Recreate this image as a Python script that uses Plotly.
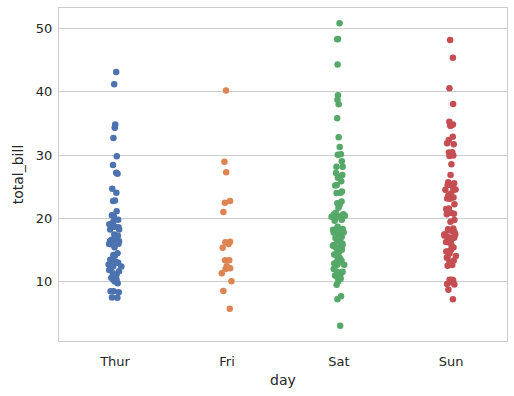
import plotly.graph_objects as go

days = ["Thur", "Fri", "Sat", "Sun"]
colors = ["#4C72B0", "#DD8452", "#55A868", "#C44E52"]

thur = [27.20, 22.76, 17.29, 19.44, 16.66, 10.07, 32.68, 15.98, 34.83, 13.03, 18.28, 24.71, 21.16,
        10.65, 12.43, 24.08, 11.69, 13.42, 14.26, 15.95, 12.48, 29.80, 8.52, 14.52, 11.38, 22.82,
        19.08, 20.27, 11.17, 12.26, 18.26, 8.51, 10.33, 14.15, 16.00, 13.16, 17.47, 34.30, 41.19,
        27.05, 16.43, 8.35, 18.64, 11.87, 9.78, 7.51,
        19.81, 28.44, 15.48, 16.58, 7.56, 10.34, 43.11, 13.00, 13.51, 18.71, 12.74, 13.00, 16.40,
        20.53, 16.47, 18.78]
fri = [28.97, 22.49, 5.75, 16.32, 22.75, 40.17, 27.28, 12.03, 21.01, 12.46, 11.35, 15.38,
       12.16, 13.42, 8.58, 15.98, 13.42, 16.27, 10.09]
sat = [20.65, 17.92, 20.29, 15.77, 39.42, 19.82, 17.81, 13.37, 12.69, 21.70, 19.65, 9.55, 18.35,
       15.06, 20.69, 17.78, 24.06, 16.31, 16.93, 18.69, 31.27, 16.04,
       38.01, 26.41, 11.24, 48.27, 20.29, 13.81,
       11.02, 18.29, 17.59, 20.08, 16.45, 3.07, 20.23, 15.01, 12.02, 17.07, 26.86, 25.28, 14.73,
       10.51, 17.92,
       44.30, 22.42, 20.92, 15.36, 20.49, 25.21, 18.24, 14.31, 14.00, 7.25,
       10.59, 10.63, 50.81, 15.81,
       26.59, 38.73, 24.27, 12.76, 30.06, 25.89, 48.33, 13.27, 28.17, 12.90, 28.15, 11.59, 7.74,
       30.14,
       20.45, 13.28, 22.12, 24.01, 15.69, 11.61, 10.77, 15.53, 10.07, 12.60, 32.83, 35.83, 29.03,
       27.18, 22.67, 17.82]
sun = [16.99, 10.34, 21.01, 23.68, 24.59, 25.29, 8.77, 26.88, 15.04, 14.78, 10.27, 35.26, 15.42,
       18.43, 14.83, 21.58, 10.33, 16.29, 16.97,
       17.46, 13.94, 9.68, 30.40, 18.29, 22.23, 32.40, 28.55, 18.04, 12.54, 10.29, 34.81, 9.94,
       25.56, 19.49,
       38.07, 23.95, 25.71, 17.31, 29.93,
       14.07, 13.13, 17.26, 24.55, 19.77, 29.85, 48.17, 25.00, 13.39, 16.49, 21.50, 12.66, 16.21,
       13.81, 17.51, 24.52, 20.76, 31.71,
       7.25, 31.85, 16.82, 32.90, 17.89, 14.48, 9.60, 34.63, 34.65, 23.33, 45.35, 23.17, 40.55,
       20.69, 20.90, 30.46, 18.15, 23.10, 15.69]

yticks = [10, 20, 30, 40, 50]
series = [thur, fri, sat, sun]

fig = go.Figure()
for d, vals, c in zip(days, series, colors):
    fig.add_trace(go.Box(
        x=[d] * len(vals), y=vals, name=d,
        boxpoints="all", jitter=0.85, pointpos=0, width=0.16,
        fillcolor="rgba(0,0,0,0)", line=dict(width=0, color="rgba(0,0,0,0)"),
        marker=dict(color=c, size=6.5, line=dict(width=0)),
        showlegend=False, hoveron="points",
    ))

font = dict(family="DejaVu Sans", size=13, color="#262626")
fig.update_layout(
    width=514, height=396,
    margin=dict(l=59, r=7, t=8, b=55),
    paper_bgcolor="white", plot_bgcolor="white",
    font=font, showlegend=False,
    xaxis=dict(title=dict(text="day", font=dict(size=14), standoff=7),
               categoryorder="array", categoryarray=days,
               range=[-0.5, 3.5], showgrid=False, zeroline=False,
               showline=True, linecolor="#cccccc", linewidth=1.2, mirror=True,
               ticks="", tickfont=font, ticklabelstandoff=8, automargin=False),
    yaxis=dict(title=dict(text="total_bill", font=dict(size=14), standoff=8),
               range=[0.68, 53.2], tickvals=yticks, showgrid=True,
               gridcolor="#cccccc", gridwidth=1, zeroline=False,
               showline=True, linecolor="#cccccc", linewidth=1.2, mirror=True,
               ticks="", tickfont=font, ticklabelstandoff=3, automargin=False),
)
fig.write_html("out.html", config={"displayModeBar": False},
               post_script="document.body.style.margin='0';")
